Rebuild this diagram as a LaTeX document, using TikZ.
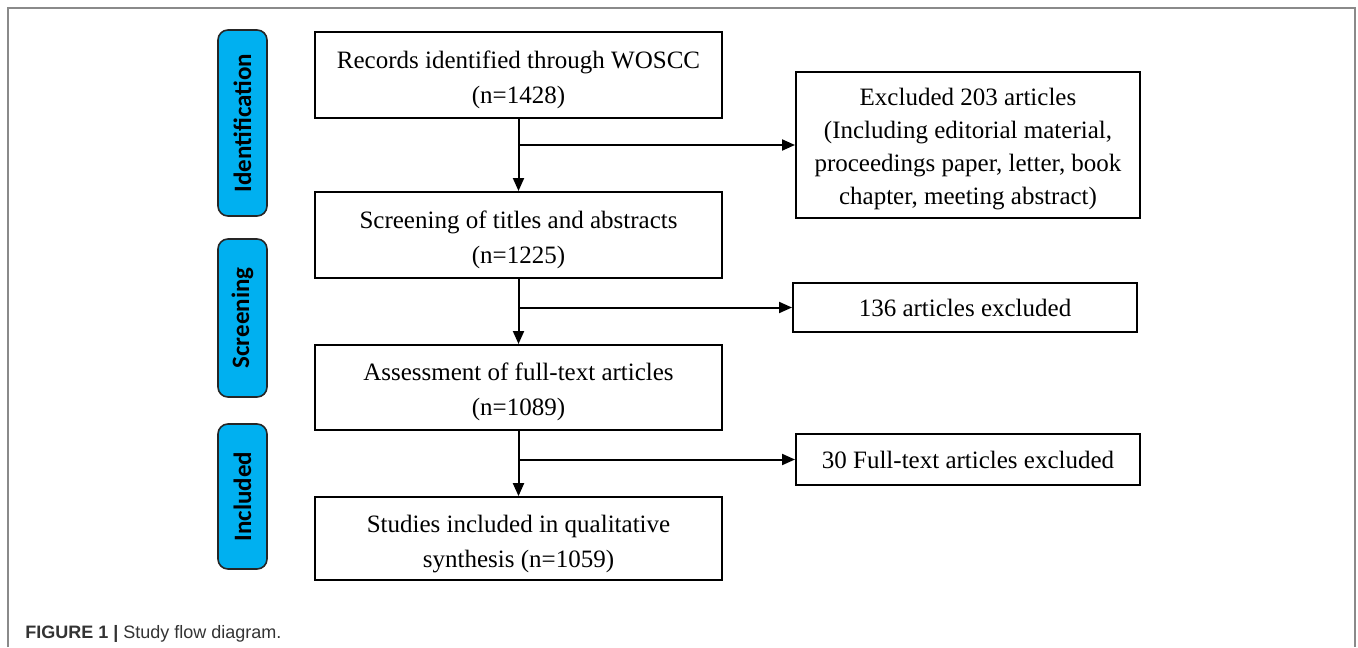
\documentclass[tikz,border=0pt]{standalone}
\usepackage{fontspec}
\setmainfont{Liberation Serif}
\newfontfamily\stagefont{Carlito}
\newfontfamily\capfont{Liberation Sans}
\usetikzlibrary{arrows.meta}

\definecolor{stageblue}{HTML}{00B0F0}
\definecolor{capgray}{HTML}{333333}
\definecolor{framegray}{HTML}{8A8A8A}

\newcommand{\topstrut}[1]{\rule{0pt}{#1}}

\tikzset{
  plain/.style={draw=black, line width=1pt, align=center,
    font=\fontsize{12.5}{17.5}\selectfont},
  box/.style={plain, minimum width=203.5pt},
  exbox/.style={plain, minimum width=172pt},
  stage/.style={draw=black!85, line width=0.8pt, fill=stageblue, rounded corners=5pt,
    rotate=90, minimum height=24.5pt, inner sep=0pt,
    font=\stagefont\bfseries\fontsize{12.5}{14}\selectfont},
  arr/.style={line width=1pt, -{Triangle[length=6.5pt,width=5.5pt]}},
}

\begin{document}
\begin{tikzpicture}[x=0.5pt, y=-0.5pt]

\useasboundingbox (0,0) rectangle (1358,647);

\def\xm{518.5}; % main column
\def\xe{968}; % excluded column
\def\xs{242.5}; % stage column

% frame
\draw[framegray, line width=0.8pt] (8,647) -- (8,8) -- (1355,8) -- (1355,647);

% stages
\node[stage, minimum width=93pt] (ident) at (\xs,123) {Identification};
\node[stage, minimum width=79pt] (scrn) at (\xs,318) {Screening};
\node[stage, minimum width=72.5pt] (incl) at (\xs,496.5) {Included};

% main flow
\node[box, minimum height=43pt] (rec) at (\xm,75) {\topstrut{13.5pt}Records identified through WOSCC\\(n=1428)};
\node[box, minimum height=43pt] (scr) at (\xm,235) {\topstrut{13.5pt}Screening of titles and abstracts\\(n=1225)};
\node[box, minimum height=42.5pt] (full) at (\xm,387.5) {\topstrut{13.5pt}Assessment of full-text articles\\(n=1089)};
\node[box, minimum height=40.5pt] (stud) at (\xm,538.5) {\topstrut{14.5pt}Studies included in qualitative\\synthesis (n=1059)};

% excluded
\node[exbox, minimum height=73pt, font=\fontsize{12.5}{16.5}\selectfont] (exc1) at (\xe,145)
  {\topstrut{12.5pt}Excluded 203 articles\\(Including editorial material,\\proceedings paper, letter, book\\chapter, meeting abstract)};
\node[exbox, minimum height=24.5pt] (exc2) at (965,307.5) {136 articles excluded};
\node[exbox, minimum height=25.5pt] (exc3) at (\xe,459.5) {30 Full-text articles excluded};

\draw[arr] (rec) -- (scr);
\draw[arr] (scr) -- (full);
\draw[arr] (full) -- (stud);

\draw[arr] (rec.south |- exc1.west) -- (exc1.west);
\draw[arr] (scr.south |- exc2.west) -- (exc2.west);
\draw[arr] (full.south |- exc3.west) -- (exc3.west);

% caption
\node[anchor=base west, inner sep=0pt, text=capgray, font=\capfont\fontsize{9}{11}\selectfont] (cap) at (25,638)
  {\textbf{FIGURE 1} \textbf{|} Study flow diagram.};

\end{tikzpicture}
\end{document}
